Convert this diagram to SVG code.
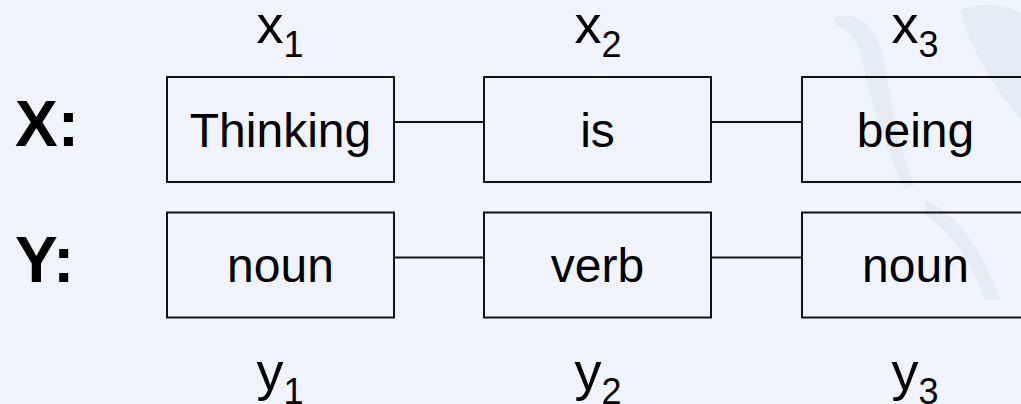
<svg xmlns="http://www.w3.org/2000/svg" width="1021" height="404" viewBox="0 0 1021 404">
<style>
.box{fill:none;stroke:#111;stroke-width:2}
.conn{stroke:#111;stroke-width:2;fill:none}
.t{font-family:"Liberation Sans",Arial,sans-serif;font-size:48px;fill:#000;text-anchor:middle}
.lbl{font-family:"Liberation Sans",Arial,sans-serif;font-size:54px;fill:#000;text-anchor:middle}
.sub{font-size:36px}
.hd{font-family:"Liberation Sans",Arial,sans-serif;font-size:64px;font-weight:bold;fill:#000}
.wm{fill:#E7EBF4}
</style>
<rect width="1021" height="404" fill="#F0F4FA"/>
<g id="watermark">
<path class="wm" d="M835,18 C858,8 878,30 884,60 C892,110 900,150 915,185 L905,190 C885,150 870,100 862,60 C858,40 850,30 835,26 Z"/>
<path class="wm" d="M960,10 C985,0 1010,5 1021,15 L1021,120 C1005,100 990,80 980,60 C972,45 965,30 960,10 Z"/>
<path class="wm" d="M925,200 C950,210 980,240 1000,300 L985,300 C970,260 950,230 925,215 Z"/>
</g>
<g id="headers">
<text class="hd" x="15" y="146">X:</text>
<text class="hd" x="15" y="282">Y:</text>
</g>
<g id="connectors">
<line class="conn" x1="394" y1="122" x2="484" y2="122"/>
<line class="conn" x1="711" y1="122" x2="802" y2="122"/>
<line class="conn" x1="394" y1="257.5" x2="484" y2="257.5"/>
<line class="conn" x1="711" y1="257.5" x2="802" y2="257.5"/>
</g>
<g id="x1"><rect class="box" x="167" y="77" width="227" height="105"/><text class="t" x="280.5" y="147">Thinking</text><text class="lbl" x="280" y="43">x<tspan class="sub" dy="13.5">1</tspan></text></g>
<g id="x2"><rect class="box" x="484" y="77" width="227" height="105"/><text class="t" x="597.5" y="147">is</text><text class="lbl" x="598" y="43">x<tspan class="sub" dy="13.5">2</tspan></text></g>
<g id="x3"><rect class="box" x="802" y="77" width="227" height="105"/><text class="t" x="915.5" y="147">being</text><text class="lbl" x="915" y="43">x<tspan class="sub" dy="13.5">3</tspan></text></g>
<g id="y1"><rect class="box" x="167" y="212.5" width="227" height="105"/><text class="t" x="280.5" y="282">noun</text><text class="lbl" x="280" y="390">y<tspan class="sub" dy="13.5">1</tspan></text></g>
<g id="y2"><rect class="box" x="484" y="212.5" width="227" height="105"/><text class="t" x="597.5" y="282">verb</text><text class="lbl" x="598" y="390">y<tspan class="sub" dy="13.5">2</tspan></text></g>
<g id="y3"><rect class="box" x="802" y="212.5" width="227" height="105"/><text class="t" x="915.5" y="282">noun</text><text class="lbl" x="915" y="390">y<tspan class="sub" dy="13.5">3</tspan></text></g>
</svg>
